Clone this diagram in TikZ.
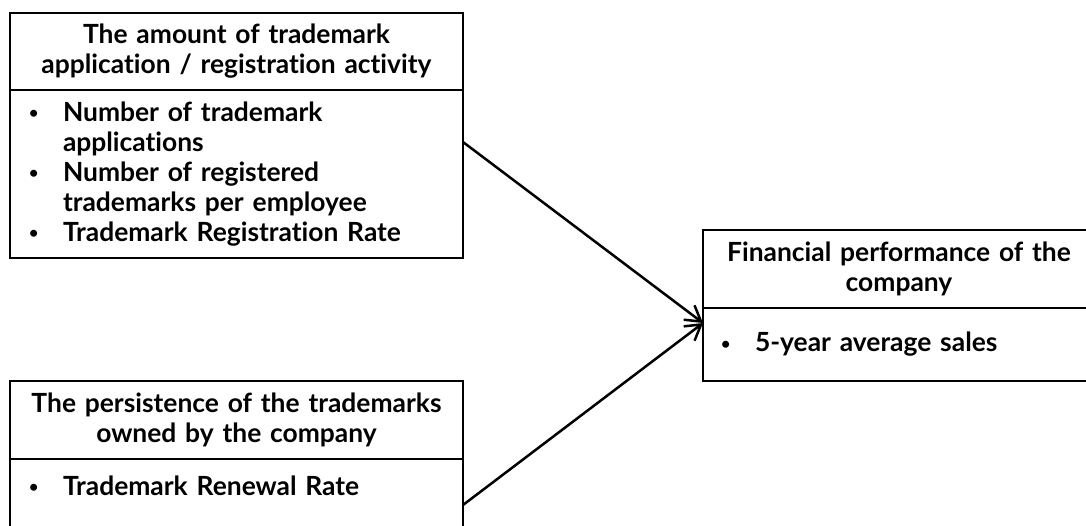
\documentclass[tikz,border=0pt]{standalone}
\usepackage{fontspec}
\setmainfont{Lato}[Ligatures=CommonOff]
\usetikzlibrary{arrows.meta,positioning}

\newcommand{\itm}[1]{\makebox[34pt][l]{\raisebox{2.5pt}{\fontsize{16}{16}\selectfont\textbullet}}#1}
\newcommand{\cnt}[1]{\hspace*{34pt}#1}

\begin{document}
\begin{tikzpicture}[x=1pt,y=-1pt,
    box/.style={draw,line width=2pt,rectangle,inner sep=0pt,outer sep=0pt,
      font=\bfseries\fontsize{26.4}{30}\selectfont},
    headbox/.style={box,align=center},
    listbox/.style={box,align=left,inner xsep=19pt},
    link/.style={-{Straight Barb[length=15pt,width=18pt]},line width=2.5pt}]
        \useasboundingbox (0,0) rectangle (1086,525);
        \clip (0,0) rectangle (1086,525);

        % left, upper box
        \node[headbox,text width=453pt,minimum height=77pt] (amounthead) at (236.5,51.5)
            {The amount of trademark\\application / registration activity};
        \node[listbox,text width=415pt,minimum height=168pt,below=0pt of amounthead] (amountbody)
            {\itm{Number of trademark}\\\cnt{applications}\\\itm{Number of registered}\\
             \cnt{trademarks per employee}\\\itm{Trademark Registration Rate}};

        % left, lower box
        \node[headbox,text width=453pt,minimum height=78pt] (persisthead) at (236.5,420)
            {The persistence of the trademarks\\owned by the company};
        \node[listbox,text width=415pt,minimum height=92pt,text height=19pt,text depth=39pt,
            below=0pt of persisthead] (persistbody)
            {\itm{Trademark Renewal Rate}};

        % right box
        \node[headbox,text width=392pt,minimum height=78pt] (saleshead) at (899,269)
            {Financial performance of the\\company};
        \node[listbox,inner xsep=18pt,text width=356pt,minimum height=73pt,below=0pt of saleshead] (salesbody)
            {\itm{5-year average sales}};

        \draw[link] ([yshift=32pt]amountbody.east) -- ([yshift=21.5pt]salesbody.west);
        \draw[link] (persistbody.east) -- ([yshift=21.5pt]salesbody.west);
\end{tikzpicture}
\end{document}
